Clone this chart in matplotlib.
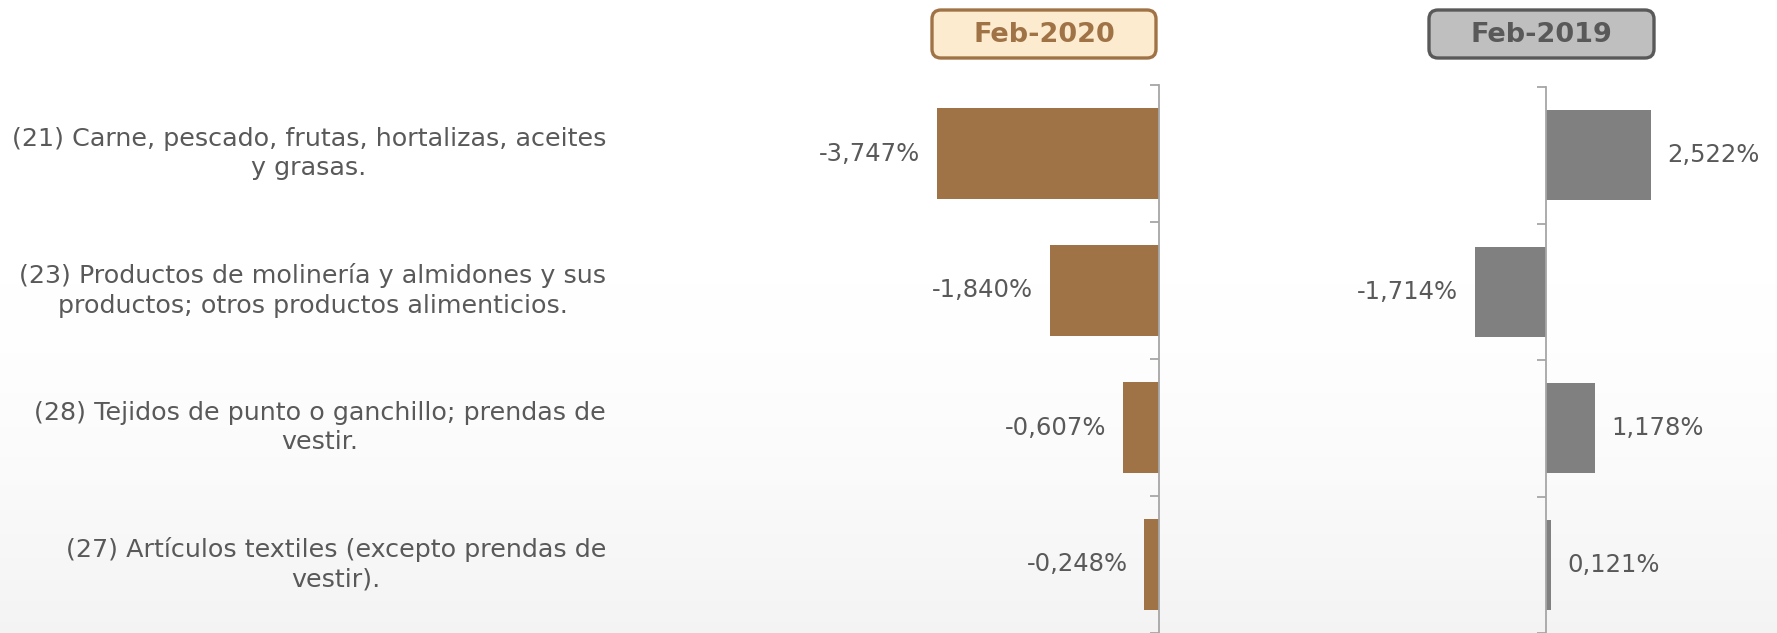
import numpy as np
import matplotlib
matplotlib.use("Agg")
from matplotlib import pyplot as plt
from matplotlib.patches import FancyBboxPatch
from matplotlib.transforms import blended_transform_factory

# data
categories = [
    "(21) Carne, pescado, frutas, hortalizas, aceites\ny grasas.",
    "(23) Productos de molinería y almidones y sus\nproductos; otros productos alimenticios.",
    "(28) Tejidos de punto o ganchillo; prendas de\nvestir.",
    "(27) Artículos textiles (excepto prendas de\nvestir).",
]
feb_2020 = [-3.747, -1.840, -0.607, -0.248]
feb_2019 = [2.522, -1.714, 1.178, 0.121]
headers = ["Feb-2020", "Feb-2019"]

W, H = 1777, 633
text_grey = "#595959"
brown = "#A07346"
grey = "#808080"
spine_grey = "#A6A6A6"

plt.rcParams['font.family'] = ['DejaVu Sans']

fig = plt.figure(figsize=(W / 100, H / 100), dpi=100)

# soft background: white on top, light grey towards the bottom
bg = fig.add_axes([0, 0, 1, 1], zorder=-5)
g = np.linspace(0, 1, 300)
g = np.clip((g - 0.45) / 0.55, 0, 1) ** 1.5
shade = 1.0 - 0.045 * g
bg.imshow(np.dstack([shade, shade, shade]).reshape(300, 1, 3), aspect='auto',
          extent=[0, 1, 0, 1], origin='upper')
bg.axis('off')


def px_axes(left, right, top, bottom):
    """axes rect from pixel edges (top/bottom measured from image top)"""
    return [left / W, (H - bottom) / H, (right - left) / W, (bottom - top) / H]


def panel(rect, vals, color, scale_left, scale_right):
    ax = fig.add_axes(rect)
    ax.patch.set_alpha(0)
    y = np.arange(len(vals))
    ax.barh(y, vals, height=0.66, color=color, zorder=2)
    ax.set_xlim(scale_left, scale_right)
    ax.set_ylim(len(vals) - 0.5, -0.5)
    for s in ['top', 'right', 'bottom']:
        ax.spines[s].set_visible(False)
    ax.spines['left'].set_position(('data', 0))
    ax.spines['left'].set_color(spine_grey)
    ax.spines['left'].set_linewidth(1.3)
    ax.set_yticks(np.arange(len(vals) + 1) - 0.5)
    ax.set_yticklabels([])
    ax.tick_params(axis='y', direction='out', length=6.5, width=1.3, color=spine_grey)
    ax.set_xticks([])
    for yi, v in zip(y, vals):
        lab = f"{abs(v):.3f}".replace('.', ',') + '%'
        if v < 0:
            lab = '-' + lab
        off = 12 if v >= 0 else -12
        ax.annotate(lab, (v, yi), xytext=(off, 0), textcoords='offset points',
                    ha='left' if v >= 0 else 'right', va='center',
                    fontsize=17.5, color=text_grey)
    return ax


# left panel: spine at x=1159 px, 59.2 px per %
ax1 = panel(px_axes(640, 1240, 85, 633), feb_2020, brown,
            -(1159 - 640) / 59.2, (1240 - 1159) / 59.2)
# right panel: spine at x=1546 px, 41.6 px per %
ax2 = panel(px_axes(1300, 1777, 87, 633), feb_2019, grey,
            -(1546 - 1300) / 41.6, (1777 - 1546) / 41.6)

# category labels, right aligned block, lines centred
tr = blended_transform_factory(fig.transFigure, ax1.transData)
for i, c in enumerate(categories):
    ax1.text(606 / W, i, c, transform=tr, ha='right', va='center',
             multialignment='center', fontsize=18.3, color=text_grey,
             linespacing=1.3, clip_on=False)

# header boxes drawn in pixel units
ov = fig.add_axes([0, 0, 1, 1], zorder=10)
ov.set_xlim(0, W)
ov.set_ylim(H, 0)
ov.axis('off')
boxes = [(930, 1158, "#FDEBD0", brown), (1427, 1656, "#BFBFBF", text_grey)]
for (x0, x1, fc, ec), h in zip(boxes, headers):
    ov.add_patch(FancyBboxPatch((x0 + 2, 10), x1 - x0 - 4, 48,
                                boxstyle="round,pad=0,rounding_size=9",
                                fc=fc, ec=ec, lw=2.4))
    ov.text((x0 + x1) / 2, 35, h, ha='center', va='center', fontsize=19.5,
            fontweight='bold', color=ec)

plt.savefig('out.png', dpi=100)
